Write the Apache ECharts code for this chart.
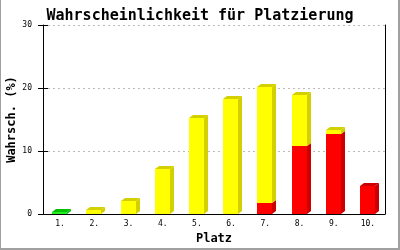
<!DOCTYPE html>
<html>
<head>
<meta charset="utf-8">
<script src="https://cdn.jsdelivr.net/npm/echarts/dist/echarts.min.js"></script>
<style>
html,body{margin:0;padding:0;background:#fff;}
#c{width:400px;height:250px;}
</style>
</head>
<body>
<div id="c"></div>
<script>
// ---- data ----
const categories = ['1.','2.','3.','4.','5.','6.','7.','8.','9.','10.'];
const greenVals  = [0.3, 0, 0, 0, 0, 0, 0, 0, 0, 0];
const redVals    = [0, 0, 0, 0, 0, 0, 1.7, 10.8, 12.7, 4.4];
const yellowVals = [0, 0.6, 2.1, 7.2, 15.3, 18.3, 18.5, 8.1, 0.6, 0];
const yMin = 0, yMax = 30, yInterval = 10;
const titleText = 'Wahrscheinlichkeit für Platzierung';
const yName = 'Wahrsch. (%)';
const xName = 'Platz';

// ---- styles ----
const seriesDefs = [
  {name:'green',  vals: greenVals,  front:'#22ee22', dark:'#00c000'},
  {name:'red',    vals: redVals,    front:'#ff0000', dark:'#cc0000'},
  {name:'yellow', vals: yellowVals, front:'#ffff00', dark:'#d4d000'}
];
const MONO = '"DejaVu Sans Mono", "Liberation Mono", monospace';

function makeRender(front, dark){
  return function(params, api){
    const i = api.value(0), b = api.value(1), t = api.value(2), isTop = api.value(3);
    if (!(t > b)) return;
    const pb = api.coord([i, b]), pt = api.coord([i, t]);
    const cw = api.size([1, 0])[0];
    const w = Math.round(cw * 0.44);
    const x0 = Math.round(pb[0] - w / 2 - 0.5), x1 = x0 + w;
    const yb = Math.round(pb[1]), yt = Math.round(pt[1]);
    const d = 4, e = 3;
    const children = [
      {type:'polygon', shape:{points:[[x1,yt],[x1+d,yt-e],[x1+d,yb-e],[x1,yb]]}, style:{fill:dark}},
      {type:'rect', shape:{x:x0, y:yt, width:w, height:Math.max(yb-yt,1)}, style:{fill:front}}
    ];
    if (isTop) {
      children.push({type:'polygon', shape:{points:[[x0,yt],[x0+d,yt-e],[x1+d,yt-e],[x1,yt]]}, style:{fill:dark}});
    }
    return {type:'group', children};
  };
}

const series = [];
const base = categories.map(() => 0);
seriesDefs.forEach((sd, k) => {
  const data = [];
  sd.vals.forEach((v, i) => {
    let top = 1;
    for (let m = k + 1; m < seriesDefs.length; m++) if (seriesDefs[m].vals[i] > 0) top = 0;
    data.push([i, base[i], base[i] + v, top]);
    base[i] += v;
  });
  series.push({
    type:'custom', name: sd.name, renderItem: makeRender(sd.front, sd.dark),
    encode:{x:0, y:[1,2]}, data, yAxisIndex:0, silent:true, animation:false
  });
});

const chart = echarts.init(document.getElementById('c'), null, {renderer:'canvas'});
chart.setOption({
  animation:false,
  title:{text:titleText, left:'center', top:4,
    textStyle:{fontFamily:MONO, fontSize:15, fontWeight:'bold', color:'#000'}},
  grid:{left:43, right:15, top:25, bottom:36, containLabel:false, outerBoundsMode:'none'},
  xAxis:{type:'category', data:categories, boundaryGap:true,
    name:xName, nameLocation:'middle', nameGap:19, nameMoveOverlap:false,
    nameTextStyle:{fontFamily:MONO, fontSize:12, fontWeight:'bold', color:'#000'},
    axisLine:{lineStyle:{color:'#000', width:1}},
    axisTick:{show:false},
    axisLabel:{fontFamily:MONO, fontSize:8, color:'#000', margin:6}
  },
  yAxis:[
    {type:'value', min:yMin, max:yMax, interval:yInterval, position:'left',
     name:yName, nameLocation:'middle', nameGap:25, nameRotate:90, nameMoveOverlap:false,
     nameTextStyle:{fontFamily:MONO, fontSize:12, fontWeight:'bold', color:'#000'},
     axisLine:{show:true, lineStyle:{color:'#000'}},
     axisTick:{show:true, length:5, lineStyle:{color:'#000'}},
     axisLabel:{fontFamily:MONO, fontSize:8, color:'#000', margin:11},
     splitLine:{show:true, lineStyle:{color:'#bbbbbb', type:[2,3], width:1}}
    },
    {type:'value', min:yMin, max:yMax, interval:yInterval, position:'left', offset:0,
     axisLine:{show:false}, axisLabel:{show:false}, splitLine:{show:false},
     axisTick:{show:true, inside:true, length:5, lineStyle:{color:'#000'}}
    },
    {type:'value', min:yMin, max:yMax, interval:yInterval, position:'right', offset:0,
     axisLine:{show:true, lineStyle:{color:'#000'}}, axisLabel:{show:false},
     splitLine:{show:false}, axisTick:{show:false}
    }
  ],
  graphic:[
    {type:'rect', shape:{x:0, y:0, width:1, height:250}, style:{fill:'#a0a0a0'}, silent:true},
    {type:'rect', shape:{x:398, y:0, width:2, height:250}, style:{fill:'#a0a0a0'}, silent:true},
    {type:'rect', shape:{x:0, y:248, width:400, height:2}, style:{fill:'#a0a0a0'}, silent:true}
  ],
  series
});
</script>
</body>
</html>
